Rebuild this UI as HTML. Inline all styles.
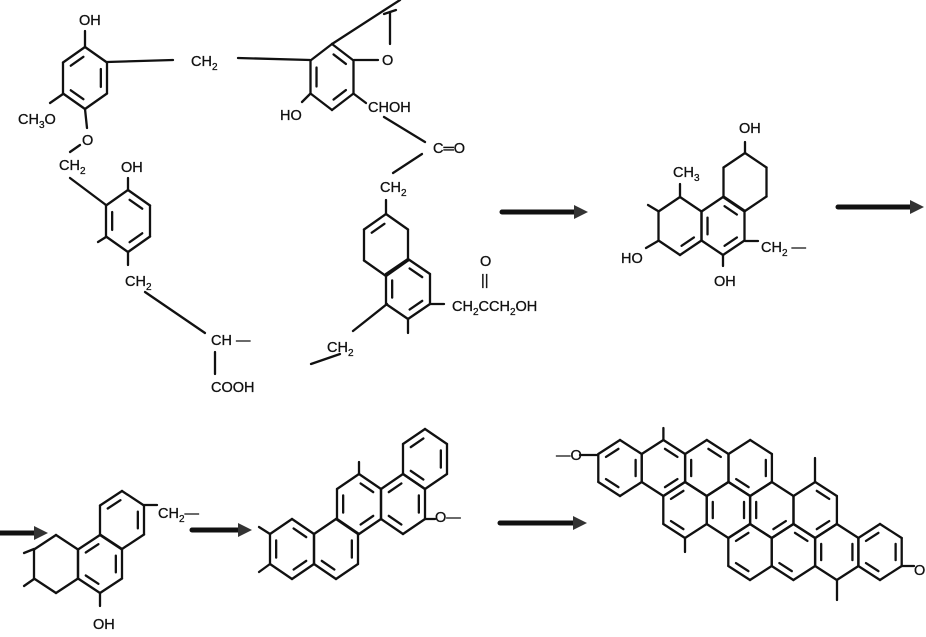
<!DOCTYPE html>
<html><head><meta charset="utf-8"><style>
html,body{margin:0;padding:0;background:#fff;}
svg{display:block;}
text{font-family:"Liberation Sans",sans-serif;font-size:14.5px;fill:#111;stroke:#111;stroke-width:0.3;}
</style></head><body>
<svg id="s" width="926" height="637" viewBox="0 0 926 637" xmlns="http://www.w3.org/2000/svg">
<g id="g" stroke="#111" stroke-width="2.3" fill="none" stroke-linecap="round"></g>
<g id="t">
<text x="79" y="25">OH</text>
<text x="191" y="66">CH<tspan font-size="10" dy="4">2</tspan></text>
<text x="18" y="124">CH<tspan font-size="10" dy="4">3</tspan><tspan dy="-4">O</tspan></text>
<text x="82" y="145">O</text>
<text x="59" y="170">CH<tspan font-size="10" dy="4">2</tspan></text>
<text x="121" y="172">OH</text>
<text x="125" y="286">CH<tspan font-size="10" dy="4">2</tspan></text>
<text x="211" y="345">CH —</text>
<text x="211" y="392">COOH</text>
<text x="382" y="65">O</text>
<text x="280" y="120">HO</text>
<text x="368" y="112">CHOH</text>
<text x="433" y="153">C═O</text>
<text x="380" y="192">CH<tspan font-size="10" dy="4">2</tspan></text>
<text x="480" y="266">O</text>
<text x="481" y="285" font-size="13">||</text>
<text x="452" y="311">CH<tspan font-size="10" dy="4">2</tspan><tspan dy="-4">CCH</tspan><tspan font-size="10" dy="4">2</tspan><tspan dy="-4">OH</tspan></text>
<text x="327" y="352">CH<tspan font-size="10" dy="4">2</tspan></text>
<text x="739" y="133">OH</text>
<text x="673" y="177">CH<tspan font-size="10" dy="4">3</tspan></text>
<text x="621" y="263">HO</text>
<text x="714" y="286">OH</text>
<text x="761" y="252">CH<tspan font-size="10" dy="4">2</tspan><tspan dy="-4"> —</tspan></text>
<text x="158" y="518">CH<tspan font-size="10" dy="4">2</tspan><tspan dy="-4">—</tspan></text>
<text x="93" y="629">OH</text>
<text x="435" y="522">O—</text>
<text x="556" y="460">—O</text>
<text x="914" y="575">O</text>
</g>
</svg>
<script>
var g=document.getElementById('g');
function L(x1,y1,x2,y2,w){var e=document.createElementNS('http://www.w3.org/2000/svg','line');e.setAttribute('x1',x1);e.setAttribute('y1',y1);e.setAttribute('x2',x2);e.setAttribute('y2',y2);if(w)e.setAttribute('stroke-width',w);g.appendChild(e);}
function H(cx,cy,hw,s,d){var v=[[cx,cy-s],[cx+hw,cy-s/2],[cx+hw,cy+s/2],[cx,cy+s],[cx-hw,cy+s/2],[cx-hw,cy-s/2]];
for(var i=0;i<6;i++){var a=v[i],b=v[(i+1)%6];L(a[0],a[1],b[0],b[1]);}
(d||[]).forEach(function(i){var a=v[i],b=v[(i+1)%6],k=0.72;
var ax=cx+(a[0]-cx)*k,ay=cy+(a[1]-cy)*k,bx=cx+(b[0]-cx)*k,by=cy+(b[1]-cy)*k;
var mx=(ax+bx)/2,my=(ay+by)/2,f=0.8;L(mx+(ax-mx)*f,my+(ay-my)*f,mx+(bx-mx)*f,my+(by-my)*f);});}
function A(x1,x2,y){L(x1,y,x2-10,y,5);var p=document.createElementNS('http://www.w3.org/2000/svg','polygon');p.setAttribute('points',(x2-14)+','+(y-7)+' '+x2+','+y+' '+(x2-14)+','+(y+7));p.setAttribute('fill','#333');p.setAttribute('stroke','none');g.appendChild(p);}
H(85,78,22,31,[1,3,5]);L(85,47,85,31);L(107,62,173,60);L(238,58,310,60);L(63,94,50,103);L(85,109,87,128);L(80,145,70,152);
H(128,221,22,31,[0,2,4]);L(70,178,106,205);L(128,190,128,178);L(128,252,128,265);L(106,237,98,242);L(145,292,205,333);L(215,352,215,374);
H(332,77,21.5,33,[0,2,4]);L(332,44,400,0);L(390,44,390,12);L(384,14,396,10);L(354,60,378,60);L(310,94,302,102);L(354,94,366,103);L(384,117,425,142);L(422,154,393,173);
H(386,245,22,31,[5]);L(386,214,386,200);
H(408,289,22,30,[0,2,4]);L(430,304,444,304);L(408,319,408,333);L(387,304,353,331);L(340,354,311,364);
A(502,588,212);A(838,924,207);
H(745,182,21.5,29,[]);L(745,153,745,142);
H(723,226,21.5,29,[0,2,4]);
H(680,226,21.5,29,[2]);L(680,197,680,184);L(658,211,648,205);L(658,241,646,248);L(723,255,723,266);L(745,241,758,241);
A(0,48,533);A(192,252,530);A(500,587,523);
H(122,520,22,29,[5,1]);L(144,505,157,505);
H(100,564,22,29,[1,3,5]);L(100,593,100,606);
H(56,564,22,29,[]);L(34,549,24,553);L(34,579,24,586);
H(425,459,22,30,[1,3,5]);
H(359,504,22,30,[0,2,4]);L(359,474,359,462);
H(403,504,22,30,[1,3,5]);L(425,519,435,519);
H(292,549,22,30,[0,2,4]);L(270,534,259,527);L(270,564,259,572);
H(336,549,22,30,[1,3]);
var s=28,hw=21.7;
[620,663.4,706.8,750.2].forEach(function(x,i){H(x,468,hw,s,[[1,3,5],[0,2],[0,4],[1,3]][i]);});
[685,728.4,771.8,815.2].forEach(function(x,i){H(x,510,hw,s,[[3,5],[1,4],[2,4],[0,2]][i]);});
[750,793.4,836.8,880].forEach(function(x,i){H(x,552,hw,s,[[3,5],[0,3],[4,1],[1,3,5]][i]);});
L(663.4,440,663.4,428);L(815,482,815,458);L(685,538,685,552);L(837,580,837,600);L(580,455,598,455);L(902,566,914,566);
</script>
</body></html>
